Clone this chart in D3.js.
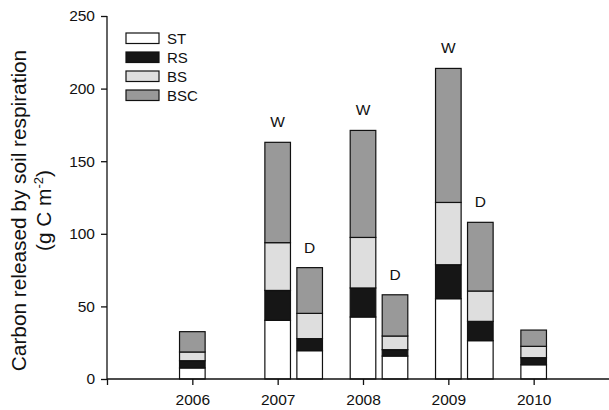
<!DOCTYPE html>
<html>
<head>
<meta charset="utf-8">
<script src="https://cdn.jsdelivr.net/npm/d3@7"></script>
<style>
  body { margin: 0; background: #fff; }
  svg { font-family: Arial, "Liberation Sans", sans-serif; }
</style>
</head>
<body>
<svg id="chart" width="609" height="410"></svg>
<script>
// --- data ---
const years = [2006, 2007, 2008, 2009, 2010];
const components = ["ST", "RS", "BS", "BSC"];
// one entry per bar: year, season label ("" = no label), then ST, RS, BS, BSC increments
const barYear   = [2006, 2007, 2007, 2008, 2008, 2009, 2009, 2010];
const barSeason = ["", "W", "D", "W", "D", "W", "D", ""];
const barOffset = [0, 0, 1, 0, 1, 0, 1, 0]; // 0 = on tick, 1 = shifted right (dry season)
const ST  = [7.6, 40.4, 19.5, 42.7, 15.8, 55.3, 26.4, 9.8];
const RS  = [5.0, 20.6, 8.3, 20.0, 4.4, 23.4, 13.3, 4.9];
const BS  = [6.0, 32.9, 17.4, 34.8, 9.4, 42.9, 20.9, 7.8];
const BSC = [14.0, 69.1, 31.5, 73.7, 28.4, 92.3, 47.3, 11.2];
const yTicks = [0, 50, 100, 150, 200, 250];

const colors = { ST: "#ffffff", RS: "#161616", BS: "#dedede", BSC: "#999999" };

const svg = d3.select("#chart");
const margin = { top: 16, left: 107, bottom: 31 };
const height = 410;

const x = d3.scaleLinear().domain([2005, 2011]).range([107, 619]);
const y = d3.scaleLinear().domain([0, 250]).range([height - margin.bottom, margin.top]);

const barW = 0.3;      // in years
const dryShift = 0.375;

const rows = barYear.map((yr, i) => ({
  year: yr, season: barSeason[i], off: barOffset[i],
  ST: ST[i], RS: RS[i], BS: BS[i], BSC: BSC[i]
}));
const stacked = d3.stack().keys(components)(rows);

// bars
stacked.forEach(layer => {
  svg.append("g").selectAll("rect")
    .data(layer)
    .enter().append("rect")
    .attr("x", d => x(d.data.year + d.data.off * dryShift - barW / 2))
    .attr("width", d => x(2005 + barW) - x(2005))
    .attr("y", d => y(d[1]))
    .attr("height", d => y(d[0]) - y(d[1]))
    .attr("fill", colors[layer.key])
    .attr("stroke", "#111")
    .attr("stroke-width", 1.2);
});

// W / D labels
svg.append("g").selectAll("text")
  .data(stacked[stacked.length - 1].filter(d => d.data.season))
  .enter().append("text")
  .attr("x", d => x(d.data.year + d.data.off * dryShift))
  .attr("y", d => y(d[1]) - 15)
  .attr("text-anchor", "middle")
  .attr("font-size", 15.5)
  .attr("fill", "#111")
  .text(d => d.data.season);

// axes
const yAxis = d3.axisLeft(y).tickValues(yTicks).tickSize(6).tickPadding(6);
const gy = svg.append("g").attr("transform", `translate(${x(2005)},0)`).call(yAxis);
const xAxis = d3.axisBottom(x).tickValues([2005].concat(years))
  .tickFormat(d => d === 2005 ? "" : d).tickSize(6).tickPadding(9);
const gx = svg.append("g").attr("transform", `translate(0,${y(0)})`).call(xAxis);
[gy, gx].forEach(g => {
  g.select(".domain").attr("stroke", "#111").attr("stroke-width", 1.3);
  g.selectAll(".tick line").attr("stroke", "#111").attr("stroke-width", 1.3);
  g.selectAll(".tick text").attr("font-size", 15.5).attr("fill", "#111")
    .attr("font-family", "Arial, 'Liberation Sans', sans-serif");
});
gx.select(".domain").attr("d", `M${x(2005)},0H609`);
gy.select(".domain").attr("d", `M0,${y(250)}V${y(0)}`);

// y title
const title = svg.append("text")
  .attr("transform", `translate(26,${(y(0) + y(250)) / 2 + 13}) rotate(-90)`)
  .attr("text-anchor", "middle")
  .attr("font-size", 20.8)
  .attr("fill", "#111");
title.append("tspan").attr("x", 0).attr("dy", 0).text("Carbon released by soil respiration");
const t2 = title.append("tspan").attr("x", 0).attr("dy", 25);
t2.append("tspan").text("(g C m");
t2.append("tspan").attr("dy", -8).attr("font-size", 13).text("-2");
t2.append("tspan").attr("dy", 8).text(")");

// legend
const legend = svg.append("g").attr("transform", "translate(126,33)");
components.forEach((c, i) => {
  const g = legend.append("g").attr("transform", `translate(0,${i * 19})`);
  g.append("rect").attr("width", 33).attr("height", 10.5)
    .attr("fill", colors[c]).attr("stroke", "#111").attr("stroke-width", 1.2);
  g.append("text").attr("x", 41).attr("y", 11).attr("font-size", 15)
    .attr("fill", "#111").text(c);
});
</script>
</body>
</html>
